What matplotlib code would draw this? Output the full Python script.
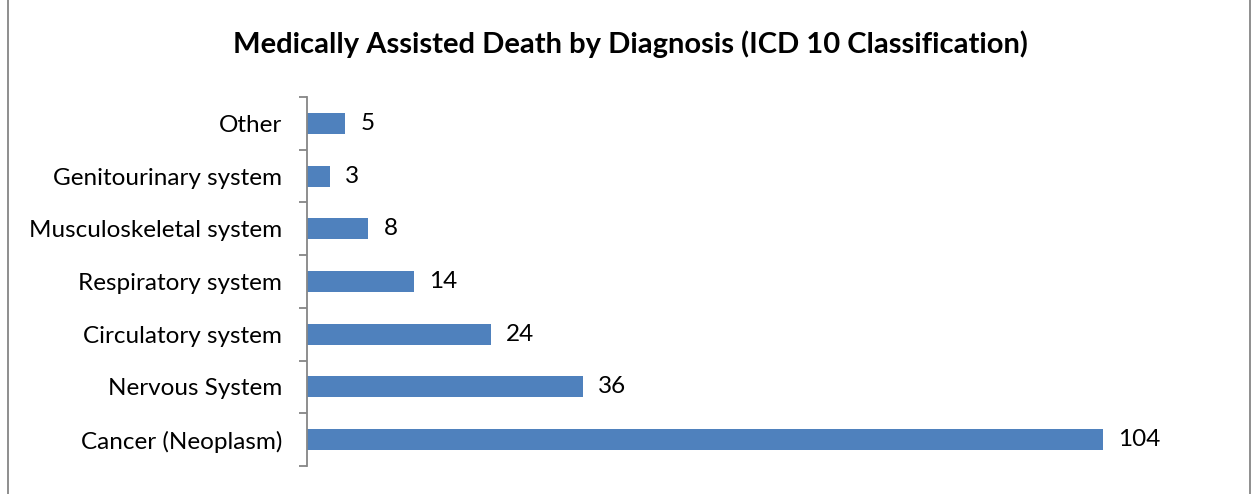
import matplotlib.pyplot as plt
from matplotlib.patches import Rectangle

categories = ["Cancer (Neoplasm)", "Nervous System", "Circulatory system",
              "Respiratory system", "Musculoskeletal system",
              "Genitourinary system", "Other"]
values = [104, 36, 24, 14, 8, 3, 5]

plt.rcParams['font.family'] = ['Lato', 'DejaVu Sans']

fig = plt.figure(figsize=(12.53, 4.94), dpi=100)
ax = fig.add_axes([0.245, 0.0567, 0.733, 0.747])

ypos = list(range(len(categories)))
ax.barh(ypos, values, height=0.4, color='#4F81BD')
for y, v in zip(ypos, values):
    ax.annotate(str(v), (v, y), xytext=(11, 0), textcoords='offset points',
                va='center', ha='left', fontsize=17.5)

ax.set_xlim(0, 120)
ax.set_ylim(-0.5, len(categories) - 0.5)
ax.set_yticks(ypos)
ax.set_yticklabels(categories, fontsize=17.5)
ax.set_yticks([i - 0.5 for i in range(len(categories) + 1)], minor=True)
ax.tick_params(axis='y', which='major', length=0, pad=18)
ax.tick_params(axis='y', which='minor', length=6, width=1.3, color='#868686')
ax.set_xticks([])
for s in ['top', 'right', 'bottom']:
    ax.spines[s].set_visible(False)
ax.spines['left'].set_color('#868686')
ax.spines['left'].set_linewidth(1.3)

fig.text(0.503, 0.91, "Medically Assisted Death by Diagnosis (ICD 10 Classification)",
         ha='center', va='center', fontsize=21, fontweight='bold')

fig.patches.append(Rectangle((0.0065, -0.01), 0.991, 1.02, transform=fig.transFigure,
                             fill=False, edgecolor='#868686', linewidth=1.3))

fig.savefig('out.png', dpi=100)
